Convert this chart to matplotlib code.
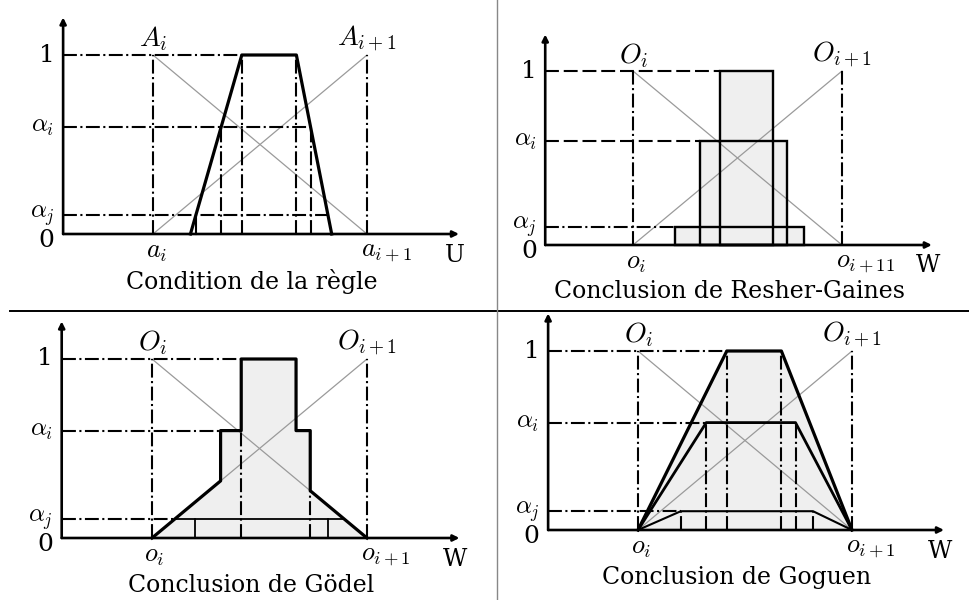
import matplotlib
matplotlib.use('Agg')
import matplotlib.pyplot as plt
from matplotlib.lines import Line2D
from matplotlib.patches import Polygon, Rectangle
import numpy as np

plt.rcParams['font.family'] = 'DejaVu Serif'
plt.rcParams['mathtext.fontset'] = 'cm'
plt.rcParams['lines.scale_dashes'] = False

# alpha levels used for the cuts (alpha_j, alpha_i, kernel)
ALPHA_J = 0.105
ALPHA_I = 0.6
levels = [ALPHA_J, ALPHA_I, 1.0]

# condition of the rule: trapezoid on [a_i, a_i+1] = [0, 1]
cond_x = [0.175, 0.415, 0.67, 0.835]
cond_mu = [0.0, 1.0, 1.0, 0.0]

# reference sets: A_i / O_i decreasing, A_i+1 / O_i+1 increasing
ref_x = [0.0, 1.0]
ref_down = [1.0, 0.0]
ref_up = [0.0, 1.0]

titles = ['Condition de la règle', 'Conclusion de Resher-Gaines',
          'Conclusion de Gödel', 'Conclusion de Goguen']
set_names = [(r'$A_i$', r'$A_{i+1}$'), (r'$O_i$', r'$O_{i+1}$'),
             (r'$O_i$', r'$O_{i+1}$'), (r'$O_i$', r'$O_{i+1}$')]
point_names = [(r'$a_i$', r'$a_{i+1}$', 'U'), (r'$o_i$', r'$o_{i+11}$', 'W'),
               (r'$o_i$', r'$o_{i+1}$', 'W'), (r'$o_i$', r'$o_{i+1}$', 'W')]
y_ticks = [0.0, ALPHA_J, ALPHA_I, 1.0]
y_tick_labels = ['0', r'$\alpha_j$', r'$\alpha_i$', '1']

# alpha-cuts of the condition (left and right bounds per level)
cut_left = [float(np.interp(a, [0, 1], cond_x[:2])) for a in levels]
cut_right = [float(np.interp(a, [0, 1], cond_x[:1:-1])) for a in levels]

W, H = 970, 600
FILL = '#efefef'
GREY = '#9a9a9a'
DASHDOT = (0, (10, 2.5, 1.5, 2.5))
DASHED = (0, (10, 3.5))
LW_DASH = 1.5
Y_AXIS = -0.42
X_END = 1.43
Y_TOP = 1.21

fig = plt.figure(figsize=(W / 100, H / 100), dpi=100)

# panel boxes (left, top, right, bottom) in pixels, origin pixel and scale
panels = [
    ((0, 0, 490, 305), (153, 234), (214, 179)),
    ((490, 0, 970, 305), (633, 245), (209, 174)),
    ((0, 311, 490, 600), (152, 538), (215, 179)),
    ((490, 311, 970, 600), (638, 530), (214, 179)),
]


def panel_axes(box, origin, scale):
    left, top, right, bottom = box
    ax = fig.add_axes([left / W, 1 - bottom / H, (right - left) / W, (bottom - top) / H])
    ax.set_xlim((left - origin[0]) / scale[0], (right - origin[0]) / scale[0])
    ax.set_ylim((origin[1] - bottom) / scale[1], (origin[1] - top) / scale[1])
    ax.axis('off')
    return ax


def frame(ax, k):
    # axes with arrows
    arrow = dict(arrowstyle='-|>', lw=1.9, color='black', mutation_scale=9,
                 shrinkA=0, shrinkB=0)
    ax.annotate('', xy=(X_END, 0), xytext=(Y_AXIS, 0), arrowprops=arrow, zorder=6)
    ax.annotate('', xy=(Y_AXIS, Y_TOP), xytext=(Y_AXIS, 0), arrowprops=arrow, zorder=6)
    for v, lab in zip(y_ticks, y_tick_labels):
        yy = -0.035 if v == 0 else v
        ax.text(Y_AXIS - 0.04, yy, lab, ha='right', va='center', fontsize=18)
    # the two reference sets
    ax.plot(ref_x, ref_down, color=GREY, lw=0.9, zorder=2)
    ax.plot(ref_x, ref_up, color=GREY, lw=0.9, zorder=2)
    for x in ref_x:
        ax.plot([x, x], [0, 1], color='black', lw=LW_DASH, ls=DASHDOT, zorder=3)
    ax.text(0, 1.09, set_names[k][0], ha='center', va='center', fontsize=20)
    ax.text(1, 1.09, set_names[k][1], ha='center', va='center', fontsize=20)
    ax.text(-0.035, -0.1, point_names[k][0], ha='left', va='center', fontsize=19)
    ax.text(0.97, -0.1, point_names[k][1], ha='left', va='center', fontsize=19)
    ax.text(1.41, -0.12, point_names[k][2], ha='center', va='center', fontsize=17)
    ax.text(0.46, -0.265, titles[k], ha='center', va='center', fontsize=17)


def hline(ax, y, x1, ls=DASHDOT):
    ax.plot([Y_AXIS, x1], [y, y], color='black', lw=LW_DASH, ls=ls, zorder=3)


def vline(ax, x, y1, ls=DASHDOT, lw=LW_DASH):
    ax.plot([x, x], [0, y1], color='black', lw=lw, ls=ls, zorder=3)


axes = [panel_axes(*p) for p in panels]
for k, ax in enumerate(axes):
    frame(ax, k)

# condition of the rule
ax = axes[0]
ax.plot(cond_x, cond_mu, color='black', lw=2.3, zorder=4)
hline(ax, 1.0, cut_left[2])
hline(ax, ALPHA_I, cut_right[1])
hline(ax, ALPHA_J, cut_right[0])
vline(ax, cut_left[0], ALPHA_J, ls='-')
vline(ax, cut_left[1], ALPHA_I)
vline(ax, cut_left[2], 1.0)
vline(ax, cut_right[2], 1.0)
vline(ax, cut_right[1], ALPHA_I)

# Resher-Gaines: one rectangle per cut
ax = axes[1]
for a, l, r in zip(levels, cut_left, cut_right):
    ax.add_patch(Rectangle((l, 0), r - l, a, facecolor=FILL, edgecolor='none', zorder=1))
    ax.add_patch(Rectangle((l, 0), r - l, a, facecolor='none', edgecolor='black',
                           lw=1.7, zorder=4))
hline(ax, 1.0, cut_left[2], ls=DASHED)
hline(ax, ALPHA_I, cut_left[1], ls=DASHED)
hline(ax, ALPHA_J, cut_left[0])

# Goedel: steps between the two reference sets
ax = axes[2]
x2, x3, x4, x5 = cut_left[1], cut_left[2], cut_right[2], cut_right[1]
y_left = float(np.interp(x2, ref_x, ref_up))
y_right = float(np.interp(x5, ref_x, ref_down))
godel_x = [0, x2, x2, x3, x3, x4, x4, x5, x5, 1]
godel_y = [0, y_left, ALPHA_I, ALPHA_I, 1, 1, ALPHA_I, ALPHA_I, y_right, 0]
ax.add_patch(Polygon(list(zip(godel_x, godel_y)), closed=True, facecolor=FILL,
                     edgecolor='none', zorder=1))
ax.plot(godel_x, godel_y, color='black', lw=2.3, zorder=4)
hline(ax, 1.0, x3)
hline(ax, ALPHA_I, x2)
hline(ax, ALPHA_J, ALPHA_J)
ax.plot([ALPHA_J, 1 - ALPHA_J], [ALPHA_J, ALPHA_J], color='black', lw=1.3, zorder=4)
vline(ax, cut_left[0], ALPHA_J, ls='-', lw=1.3)
vline(ax, cut_right[0], ALPHA_J, ls='-', lw=1.3)
vline(ax, x3, ALPHA_I)
vline(ax, x5, y_right)

# Goguen: one trapezoid per cut
ax = axes[3]
ax.add_patch(Polygon([(0, 0), (cut_left[2], 1), (cut_right[2], 1), (1, 0)],
                     closed=True, facecolor=FILL, edgecolor='none', zorder=1))
for a, l, r, lw in zip(levels, cut_left, cut_right, [1.5, 2.0, 2.3]):
    ax.plot([0, l, r, 1], [0, a, a, 0], color='black', lw=lw, zorder=4)
    vline(ax, l, a)
    vline(ax, r, a)
hline(ax, 1.0, cut_left[2])
hline(ax, ALPHA_I, cut_left[1])
hline(ax, ALPHA_J, cut_left[0])

# separators between the panels
fig.add_artist(Line2D([10 / W, 1], [1 - 311 / H] * 2, color='black', lw=1.4))
fig.add_artist(Line2D([497 / W] * 2, [0, 1], color='#888888', lw=1.0))

fig.savefig('out.png', dpi=100)
